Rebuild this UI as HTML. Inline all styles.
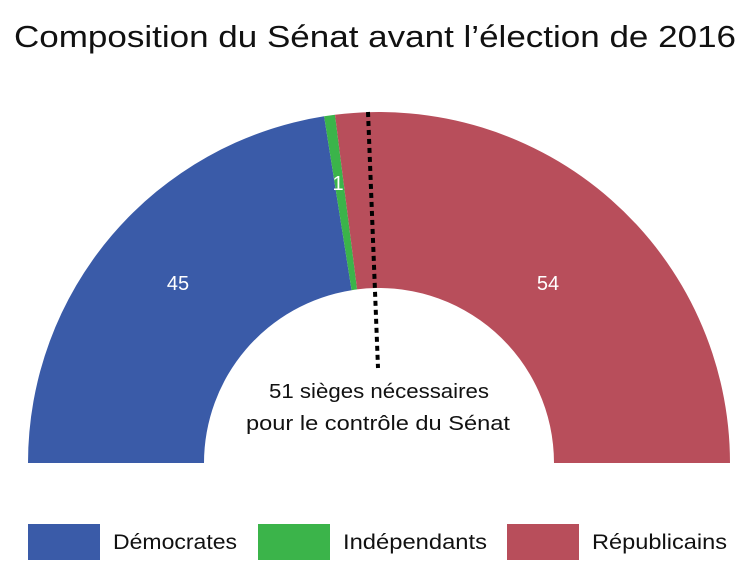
<!DOCTYPE html>
<html><head><meta charset="utf-8"><style>
body{margin:0;background:#fff;}
svg{display:block;font-family:"Liberation Sans",sans-serif;}
</style></head><body>
<svg width="756" height="571" viewBox="0 0 756 571">
<text x="14" y="47" font-size="31" fill="#111" textLength="722" lengthAdjust="spacingAndGlyphs">Composition du Sénat avant l’élection de 2016</text>
<path d="M28,463 A351,351 0 0 1 324.1,116.3 L351.6,290.2 A175,175 0 0 0 204,463 Z" fill="#3a5ba8"/>
<path d="M324.1,116.3 A351,351 0 0 1 335,114.8 L357.1,289.4 A175,175 0 0 0 351.6,290.2 Z" fill="#3bb44a"/>
<path d="M335,114.8 A351,351 0 0 1 730,463 L554,463 A175,175 0 0 0 357.1,289.4 Z" fill="#b84e5b"/>
<line x1="368" y1="112" x2="378" y2="368" stroke="#000" stroke-width="4" stroke-dasharray="5,4"/>
<text x="178" y="290" text-anchor="middle" font-size="20" fill="#fff">45</text>
<text x="338" y="190" text-anchor="middle" font-size="20" fill="#fff">1</text>
<text x="548" y="290" text-anchor="middle" font-size="20" fill="#fff">54</text>
<text x="269" y="398" font-size="20" fill="#111" textLength="220" lengthAdjust="spacingAndGlyphs">51 sièges nécessaires</text>
<text x="246" y="430" font-size="20" fill="#111" textLength="264" lengthAdjust="spacingAndGlyphs">pour le contrôle du Sénat</text>
<rect x="28" y="524" width="72" height="36" fill="#3a5ba8"/>
<text x="113" y="549" font-size="21" fill="#111" textLength="124" lengthAdjust="spacingAndGlyphs">Démocrates</text>
<rect x="258" y="524" width="72" height="36" fill="#3bb44a"/>
<text x="343" y="549" font-size="21" fill="#111" textLength="144" lengthAdjust="spacingAndGlyphs">Indépendants</text>
<rect x="507" y="524" width="72" height="36" fill="#b84e5b"/>
<text x="592" y="549" font-size="21" fill="#111" textLength="135" lengthAdjust="spacingAndGlyphs">Républicains</text>
</svg>
</body></html>
